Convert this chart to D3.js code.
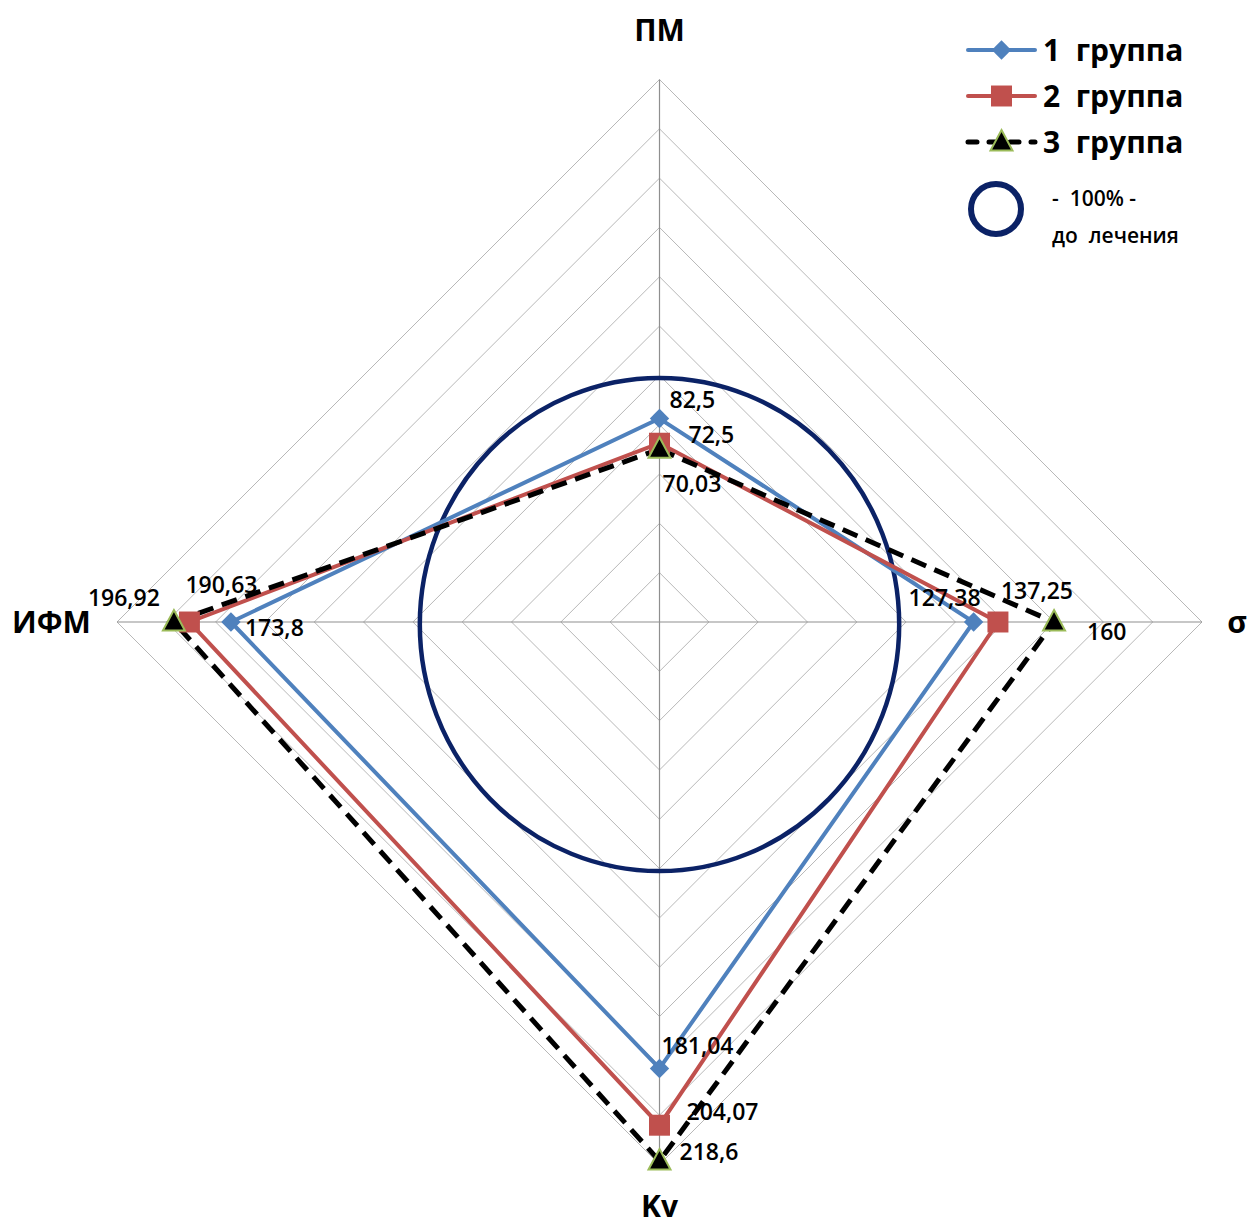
<!DOCTYPE html>
<html>
<head>
<meta charset="utf-8">
<script src="https://cdn.jsdelivr.net/npm/d3@7"></script>
<style>
  body { margin: 0; background: #fff; }
  text { font-family: "Open Sans", "DejaVu Sans", sans-serif; white-space: pre; }
</style>
</head>
<body>
<div id="chart"></div>
<script>
// axes, clockwise from top
var axes = ["ПМ", "σ", "Kv", "ИФМ"];
var group1 = [82.5, 127.38, 181.04, 173.8];
var group2 = [72.5, 137.25, 204.07, 190.63];
var group3 = [70.03, 160, 218.6, 196.92];
var ringValues = [20, 40, 60, 80, 100, 120, 140, 160, 180, 200, 220];
var baseline = 100;   // "100% - до лечения"
var seriesNames = ["1  группа", "2  группа", "3  группа"];

var width = 1250, height = 1225,
    cx = 659.5, cy = 622,
    R = 542.5;

var svg = d3.select("#chart").append("svg")
    .attr("width", width)
    .attr("height", height);

var r = d3.scaleLinear().domain([0, 220]).range([0, R]);
var angle = d3.scaleBand().domain(axes).range([0, 2 * Math.PI]);

function pt(axis, v) {
    var a = angle(axis);
    return [cx + r(v) * Math.sin(a), cy - r(v) * Math.cos(a)];
}

var g = svg.append("g");

// rings (diamonds)
ringValues.forEach(function(v) {
    g.append("path")
        .attr("d", d3.line().curve(d3.curveLinearClosed)(axes.map(function(a) { return pt(a, v); })))
        .attr("fill", "none")
        .attr("stroke", "#b8b8b8")
        .attr("stroke-width", 1);
});

// spokes
axes.forEach(function(a) {
    var p = pt(a, 220);
    g.append("line")
        .attr("x1", cx).attr("y1", cy)
        .attr("x2", p[0]).attr("y2", p[1])
        .attr("stroke", "#8f8f8f")
        .attr("stroke-width", 1.2);
});

// baseline circle
g.append("ellipse")
    .attr("cx", cx).attr("cy", cy + 2.5)
    .attr("rx", r(baseline) * 0.972)
    .attr("ry", r(baseline))
    .attr("fill", "none")
    .attr("stroke", "#0b2266")
    .attr("stroke-width", 4.5);

// axis labels
var axisLabelPos = {
    "ПМ": {x: cx, y: 30, anchor: "middle"},
    "σ": {x: 1237, y: 622, anchor: "middle"},
    "Kv": {x: cx, y: 1206, anchor: "middle"},
    "ИФМ": {x: 12, y: 622, anchor: "start"}
};
axes.forEach(function(a) {
    var p = axisLabelPos[a];
    svg.append("text")
        .attr("x", p.x).attr("y", p.y)
        .attr("dy", "0.36em")
        .attr("text-anchor", p.anchor)
        .style("font-size", "30px")
        .style("font-weight", "bold")
        .text(a);
});

var line = d3.line().curve(d3.curveLinearClosed);

var series = [
    {data: group1, color: "#4f81bd", dash: null, width: 4, marker: "diamond"},
    {data: group2, color: "#c0504d", dash: null, width: 4, marker: "square"},
    {data: group3, color: "#000000", dash: "16,9", width: 5, marker: "triangle"}
];

// label offsets relative to the point [dx, dy, anchor]
var labelOffsets = [
    [[10, -19, "start"], [-65, -24, "start"], [2, -23, "start"], [14, 6, "start"]],
    [[29, -9, "start"], [3, -31, "start"], [27, -13, "start"], [-4, -37, "start"]],
    [[3, 34, "start"], [33, 10, "start"], [20, -9, "start"], [-14, -24, "end"]]
];

function markerPath(type) {
    if (type === "diamond") return d3.symbol().type(d3.symbolDiamond2).size(240)();
    if (type === "square") return d3.symbol().type(d3.symbolSquare).size(440)();
    return "M0,-12L11,8.5L-11,8.5Z";
}

series.forEach(function(s) {
    var pts = axes.map(function(a, i) { return pt(a, s.data[i]); });
    svg.append("path")
        .attr("d", line(pts))
        .attr("fill", "none")
        .attr("stroke", s.color)
        .attr("stroke-width", s.width)
        .attr("stroke-dasharray", s.dash)
        .attr("stroke-linejoin", "miter");
});

series.forEach(function(s) {
    var pts = axes.map(function(a, i) { return pt(a, s.data[i]); });
    svg.selectAll(null)
        .data(pts)
        .enter()
        .append("path")
        .attr("transform", function(d) { return "translate(" + d[0] + "," + d[1] + ")"; })
        .attr("d", markerPath(s.marker))
        .attr("fill", s.color)
        .attr("stroke", s.marker === "triangle" ? "#9bbb59" : "none")
        .attr("stroke-width", 2);
});

// data labels
series.forEach(function(s, si) {
    axes.forEach(function(a, i) {
        var p = pt(a, s.data[i]);
        var o = labelOffsets[si][i];
        svg.append("text")
            .attr("x", p[0] + o[0])
            .attr("y", p[1] + o[1])
            .attr("dy", "0.36em")
            .attr("text-anchor", o[2])
            .style("font-size", "23px")
            .style("font-weight", "600")
            .text(String(s.data[i]).replace(".", ","));
    });
});

// legend
var legend = svg.append("g").attr("transform", "translate(968,50)");
series.forEach(function(s, i) {
    var row = legend.append("g").attr("transform", "translate(0," + (i * 46) + ")");
    row.append("line")
        .attr("x1", 0).attr("x2", 67)
        .attr("y1", 0).attr("y2", 0)
        .attr("stroke", s.color)
        .attr("stroke-width", s.width)
        .attr("stroke-linecap", "round")
        .attr("stroke-dasharray", s.dash ? "9,12" : null);
    row.append("path")
        .attr("transform", "translate(33.5,0)")
        .attr("d", markerPath(s.marker))
        .attr("fill", s.color)
        .attr("stroke", s.marker === "triangle" ? "#9bbb59" : "none")
        .attr("stroke-width", 2);
    row.append("text")
        .attr("x", 75).attr("y", 0)
        .attr("dy", "0.36em")
        .style("font-size", "30px")
        .style("font-weight", "bold")
        .text(seriesNames[i]);
});

legend.append("circle")
    .attr("cx", 28).attr("cy", 159)
    .attr("r", 25)
    .attr("fill", "none")
    .attr("stroke", "#0b2266")
    .attr("stroke-width", 6);
legend.append("text")
    .attr("x", 84).attr("y", 148)
    .attr("dy", "0.36em")
    .style("font-size", "21px")
    .style("font-weight", "600")
    .text("-  100% -");
legend.append("text")
    .attr("x", 84).attr("y", 185)
    .attr("dy", "0.36em")
    .style("font-size", "21px")
    .style("font-weight", "600")
    .text("до  лечения");
</script>
</body>
</html>
